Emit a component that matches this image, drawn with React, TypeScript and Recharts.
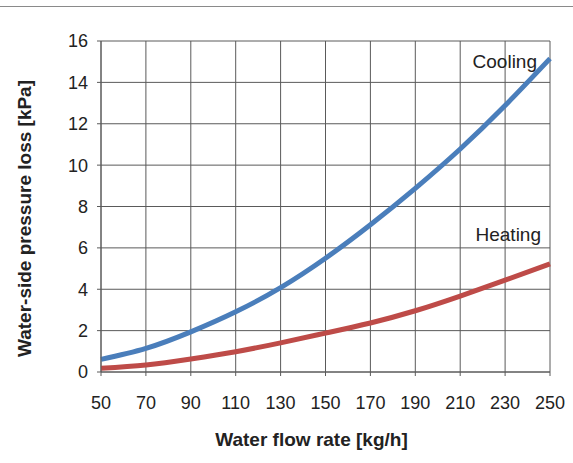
import { LineChart, Line, XAxis, YAxis, CartesianGrid, LabelList, Label } from "recharts";

const flowRates = [50, 70, 90, 110, 130, 150, 170, 190, 210, 230, 250];
const cooling = [0.61, 1.14, 1.94, 2.91, 4.08, 5.5, 7.12, 8.88, 10.78, 12.88, 15.15];
const heating = [0.18, 0.34, 0.63, 0.98, 1.41, 1.88, 2.37, 2.96, 3.67, 4.44, 5.23];
const yTicks = [0, 2, 4, 6, 8, 10, 12, 14, 16];

const data = flowRates.map((f, i) => ({ flow: f, cooling: cooling[i], heating: heating[i] }));

const FONT = "Arial, 'Liberation Sans', sans-serif";
const GRID = "#5a5a5a";

function endLabel(text: string, dx: number, dy: number) {
  return (props: any) => {
    if (props.index !== flowRates.length - 1) return null;
    return (
      <text
        x={Number(props.x) + dx}
        y={Number(props.y) + dy}
        textAnchor="end"
        fontSize={19}
        fontFamily={FONT}
        fill="#222"
      >
        {text}
      </text>
    );
  };
}

export default function App() {
  return (
    <div style={{ position: "absolute", top: 0, left: 0, width: 573, height: 463, background: "#fff" }}>
      <div style={{ position: "absolute", top: 6, left: 0, width: 573, height: 1, background: "#8a8a8a" }} />
      <LineChart
        width={573}
        height={463}
        data={data}
        margin={{ top: 41, right: 23, left: 0, bottom: 0 }}
      >
        <CartesianGrid stroke={GRID} strokeWidth={1} vertical horizontal />
        <XAxis
          dataKey="flow"
          type="number"
          domain={[50, 250]}
          ticks={flowRates}
          height={91}
          tickSize={4}
          tickMargin={20}
          stroke={GRID}
          tick={{ fill: "#222", fontSize: 18, fontFamily: FONT }}
        >
          <Label
            content={({ viewBox }: any) => (
              <text
                x={viewBox.x + viewBox.width / 2 - 14}
                y={viewBox.y + 74}
                textAnchor="middle"
                fontSize={19}
                fontWeight="bold"
                fontFamily={FONT}
                fill="#222"
              >
                Water flow rate [kg/h]
              </text>
            )}
          />
        </XAxis>
        <YAxis
          type="number"
          domain={[0, 16]}
          ticks={yTicks}
          width={101}
          tickSize={4}
          tickMargin={9}
          stroke={GRID}
          tick={{ fill: "#222", fontSize: 18, fontFamily: FONT }}
        >
          <Label
            content={({ viewBox }: any) => {
              const cx = 31;
              const cy = viewBox.y + viewBox.height / 2 + 12;
              return (
                <text
                  x={cx}
                  y={cy}
                  transform={`rotate(-90, ${cx}, ${cy})`}
                  textAnchor="middle"
                  fontSize={19}
                  fontWeight="bold"
                  fontFamily={FONT}
                  fill="#222"
                >
                  Water-side pressure loss [kPa]
                </text>
              );
            }}
          />
        </YAxis>
        <Line
          type="natural"
          dataKey="cooling"
          stroke="#4a7ebb"
          strokeWidth={5}
          dot={false}
          isAnimationActive={false}
        >
          <LabelList dataKey="cooling" content={endLabel("Cooling", -13, 9)} />
        </Line>
        <Line
          type="natural"
          dataKey="heating"
          stroke="#be4b48"
          strokeWidth={5}
          dot={false}
          isAnimationActive={false}
        >
          <LabelList dataKey="heating" content={endLabel("Heating", -9, -23)} />
        </Line>
      </LineChart>
    </div>
  );
}
